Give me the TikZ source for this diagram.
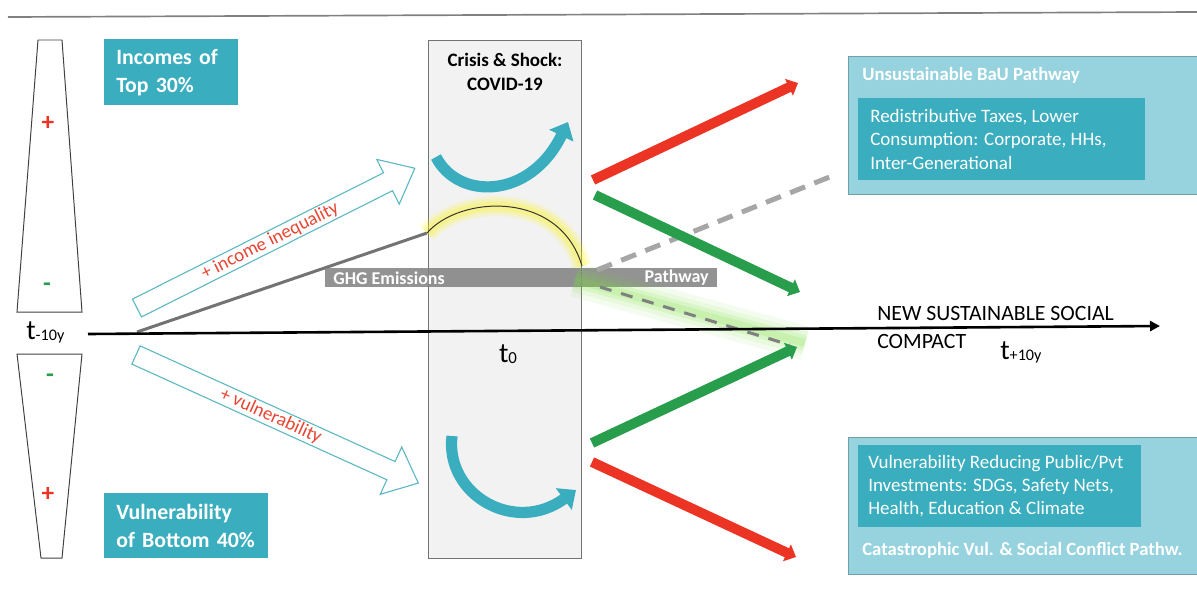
\documentclass[tikz,border=0pt]{standalone}
\usepackage{fontspec}
\setmainfont{Carlito}
\usetikzlibrary{arrows.meta}
\definecolor{tealdark}{RGB}{58,173,190}
\definecolor{teallight}{RGB}{150,211,222}
\definecolor{tealedge}{RGB}{110,160,170}
\definecolor{tealline}{RGB}{95,185,195}
\definecolor{redarrow}{RGB}{236,52,36}
\definecolor{greenarrow}{RGB}{40,158,76}
\definecolor{redtext}{RGB}{232,70,50}
\definecolor{crisisgray}{RGB}{242,242,242}
\definecolor{glowgreen}{RGB}{120,220,60}
\tikzstyle{trapez}=[draw=black!75, line width=0.7pt]
\tikzstyle{sign}=[font=\bfseries\fontsize{18}{18}\selectfont]
\tikzstyle{groupbox}=[rectangle, fill=tealdark, text=white, anchor=north west, align=left,
        inner xsep=0.3cm, inner ysep=0pt, font=\bfseries\fontsize{15.5}{20}\selectfont]
\tikzstyle{openarrow}=[draw=tealline, fill=white, line width=0.8pt]
\tikzstyle{arrowlabel}=[text=redtext, inner sep=0pt, font=\fontsize{13.5}{13.5}\selectfont]
\tikzstyle{timelabel}=[inner sep=0pt, font=\fontsize{20}{20}\selectfont]
\tikzstyle{pathbar}=[rectangle, fill=black!50, fill opacity=0.85, anchor=north west,
        minimum width=9.8cm, minimum height=0.475cm, inner sep=0pt]
\tikzstyle{bartext}=[text=white, inner sep=0pt, font=\bfseries\fontsize{12.8}{12.8}\selectfont]
\tikzstyle{curvy}=[draw=tealdark, line width=0.28cm, -{Triangle[length=0.38cm,width=0.65cm]}]
\tikzstyle{fatarrow}=[line width=0.25cm, -{Triangle[length=0.25cm,width=0.45cm]}]
\tikzstyle{outerbox}=[rectangle, fill=teallight, draw=tealedge, line width=0.8pt, anchor=north west,
        minimum width=8.8cm, inner sep=0pt]
\tikzstyle{innerbox}=[rectangle, fill=tealdark, anchor=north west, minimum height=2.05cm, inner sep=0pt]
\tikzstyle{innertext}=[anchor=west, text=white, align=left, inner sep=0pt, font=\fontsize{13.5}{16.5}\selectfont]
\tikzstyle{pathtitle}=[anchor=west, text=white, inner sep=0pt, font=\bfseries\fontsize{13.3}{13.3}\selectfont]
\begin{document}
\begin{tikzpicture}[x=0.025cm, y=-0.025cm]
\useasboundingbox (0,0) rectangle (1197,594);
\clip (0,0) rectangle (1197,594);
\draw[black!50, line width=1.2pt] (8,17) -- (1197,12);

\node[rectangle, draw=black!55, fill=crisisgray, line width=0.8pt, anchor=north west,
      minimum width=3.825cm, minimum height=12.95cm, inner sep=0pt] (crisisbox) at (428,40) {};
\node[font=\bfseries\fontsize{13.5}{16.5}\selectfont, align=center] (crisis) at (505,72) {Crisis \& Shock:\\COVID-19};

\draw[trapez] (38,40) -- (62,40) -- (82,312) -- (17,312) -- cycle;
\draw[trapez] (17,354) -- (82,354) -- (62,558) -- (41,558) -- cycle;
\node[sign, text=redarrow] (topplus) at (48,123) {+};
\node[sign, text=greenarrow] (topminus) at (47,287) {-};
\node[sign, text=greenarrow] (botminus) at (50,378) {-};
\node[sign, text=redarrow] (botplus) at (48,494) {+};
\node[timelabel, anchor=base west] (tminus) at (26,339) {t{\fontsize{11.5}{11.5}\selectfont\raisebox{-1pt}{-10y}}};

\node[groupbox, text width=2.75cm, minimum height=1.65cm] (incomes) at (104,39) {Incomes of\\Top 30\%};
\node[groupbox, text width=3.5cm, minimum height=1.625cm] (vulner) at (104,493) {Vulnerability\\of Bottom 40\%};

\begin{scope}[shift={(137,308)}, rotate=26.7]
\draw[openarrow] (0,-10) -- (281,-10) -- (281,-25) -- (311,0) -- (281,25) -- (281,10) -- (0,10) -- cycle;
\node[arrowlabel, rotate=26.7] (ineq) at (149,0) {+ income inequality};
\end{scope}
\begin{scope}[shift={(136,355)}, rotate=-24.4]
\draw[openarrow] (0,-10) -- (280,-10) -- (280,-26) -- (310,0) -- (280,26) -- (280,10) -- (0,10) -- cycle;
\node[arrowlabel, rotate=-24.4] (vuln) at (148,0) {+ vulnerability};
\end{scope}

\coordinate (ghgstart) at (137,332);
\coordinate (arcstart) at (427,233);
\coordinate (arcend) at (582,266);
\draw[black!55, line width=0.075cm] (ghgstart) -- (arcstart);
\foreach \w/\o in {0.5/0.12, 0.36/0.15, 0.22/0.2}
  \draw[yellow, opacity=\o, line width=\w cm] (arcstart) .. controls (460,195) and (560,190) .. (arcend);
\draw[black!80, line width=0.7pt] (arcstart) .. controls (460,195) and (560,190) .. (arcend);

\draw[curvy] (436,157) .. controls (458,200) and (530,200) .. (568,122);
\draw[curvy] (452,436) .. controls (445,495) and (515,535) .. (576,490);

\node[pathbar] (ghgbar) at (325,268) {};
\node[bartext, anchor=west] (ghglabel) at ([xshift=0.2cm]ghgbar.west) {GHG Emissions};
\node[bartext, anchor=east] (pathlabel) at ([xshift=-0.22cm]ghgbar.east) {Pathway};

\foreach \w/\o in {0.85/0.08, 0.6/0.1, 0.38/0.14, 0.2/0.16}
  \draw[glowgreen, opacity=\o, line width=\w cm] (575,280) -- (805,343);
\coordinate (dashup-s) at (597,270);
\coordinate (dashup-e) at (832,176);
\coordinate (dashlow-s) at (600,287);
\coordinate (dashlow-e) at (790,345);
\draw[black!35, line width=0.125cm, dash pattern=on 0.4cm off 0.25cm] (dashup-s) -- (dashup-e);
\draw[black!50, line width=0.075cm, dash pattern=on 0.3cm off 0.25cm] (dashlow-s) -- (dashlow-e);

\coordinate (fork1) at (593,180);
\coordinate (fork2) at (595,195);
\coordinate (fork3) at (592,443);
\coordinate (fork4) at (592,462);
\draw[fatarrow, redarrow] (fork1) -- (798,83);
\draw[fatarrow, greenarrow] (fork2) -- (800,292);
\draw[fatarrow, greenarrow] (fork3) -- (797,347);
\draw[fatarrow, redarrow] (fork4) -- (796,557);

\coordinate (tstart) at (88,334);
\coordinate (tend) at (1160,326);
\draw[line width=0.065cm, -{Triangle[length=0.25cm,width=0.25cm]}] (tstart) -- (tend);
\node[timelabel, anchor=base] (tzero) at (508,362) {t{\fontsize{12}{12}\selectfont\raisebox{-1pt}{0}}};

\node[outerbox, minimum height=3.45cm] (bau) at (848,56) {};
\node[pathtitle] (bautitle) at (862,75) {Unsustainable BaU Pathway};
\node[innerbox, minimum width=7.175cm] (bauinner) at (858,98) {};
\node[innertext] (bautext) at ([xshift=0.3cm]bauinner.west) {Redistributive Taxes, Lower\\Consumption: Corporate, HHs,\\Inter-Generational};

\node[outerbox, minimum height=3.425cm] (cat) at (848,437) {};
\node[innerbox, minimum width=7.075cm] (catinner) at (858,445) {};
\node[innertext] (cattext) at ([xshift=0.25cm]catinner.west) {Vulnerability Reducing Public/Pvt\\Investments: SDGs, Safety Nets,\\Health, Education \& Climate};
\node[pathtitle] (cattitle) at (862,550) {Catastrophic Vul. \& Social Conflict Pathw.};

\node[anchor=north west, align=left, inner sep=0pt, font=\fontsize{15.5}{20}\selectfont] (compact) at (877,306) {NEW SUSTAINABLE SOCIAL\\COMPACT};
\node[timelabel, anchor=base west] (tplus) at (1000,359) {t{\fontsize{11.5}{11.5}\selectfont\raisebox{-1pt}{+10y}}};
\end{tikzpicture}
\end{document}
